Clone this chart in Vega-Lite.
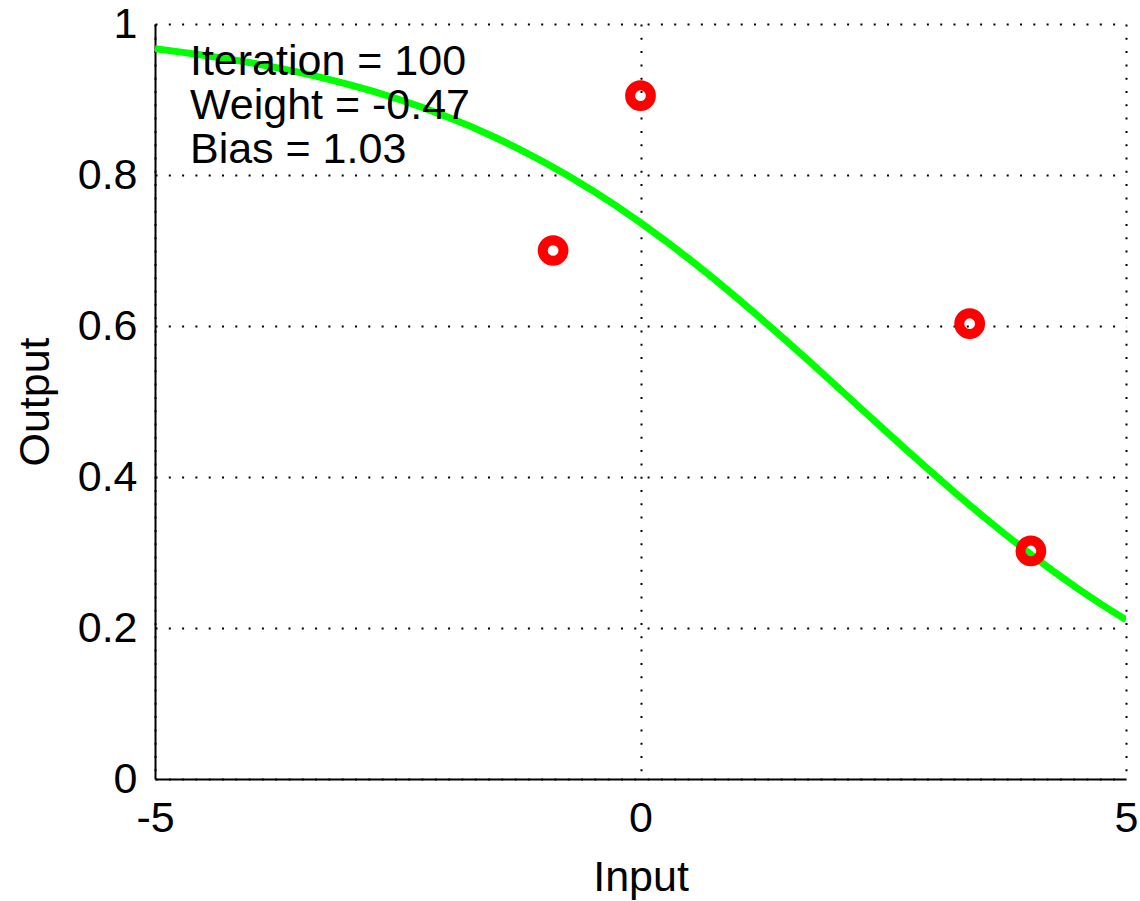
{
  "$schema": "https://vega.github.io/schema/vega-lite/v6.json",
  "width": 971,
  "height": 755,
  "autosize": {"type": "none"},
  "padding": {"left": 155, "top": 24, "right": 14, "bottom": 122},
  "background": "white",
  "config": {
    "view": {"stroke": null},
    "font": "Liberation Sans",
    "axis": {
      "grid": true,
      "gridColor": "black",
      "gridDash": [2, 11.3],
      "gridWidth": 2,
      "gridOpacity": 1,
      "domainColor": "black",
      "domainWidth": 2,
      "ticks": false,
      "labelFont": "Liberation Sans",
      "labelFontSize": 43,
      "labelColor": "black",
      "labelFlush": false,
      "titleFont": "Liberation Sans",
      "titleFontSize": 43,
      "titleFontWeight": "normal",
      "titleColor": "black"
    }
  },
  "datasets": {
    "curve": [
      {"x": -5, "y": 0.9671}, {"x": -4.75, "y": 0.9631}, {"x": -4.5, "y": 0.9587}, {"x": -4.25, "y": 0.9538},
      {"x": -4, "y": 0.9483}, {"x": -3.75, "y": 0.9423}, {"x": -3.5, "y": 0.9355}, {"x": -3.25, "y": 0.9281},
      {"x": -3, "y": 0.9198}, {"x": -2.75, "y": 0.9107}, {"x": -2.5, "y": 0.9007}, {"x": -2.25, "y": 0.8897},
      {"x": -2, "y": 0.8776}, {"x": -1.75, "y": 0.8644}, {"x": -1.5, "y": 0.85}, {"x": -1.25, "y": 0.8344},
      {"x": -1, "y": 0.8176}, {"x": -0.75, "y": 0.7994}, {"x": -0.5, "y": 0.7799}, {"x": -0.25, "y": 0.7591},
      {"x": 0, "y": 0.7369}, {"x": 0.25, "y": 0.7135}, {"x": 0.5, "y": 0.6889}, {"x": 0.75, "y": 0.6632},
      {"x": 1, "y": 0.6365}, {"x": 1.25, "y": 0.6088}, {"x": 1.5, "y": 0.5805}, {"x": 1.75, "y": 0.5517},
      {"x": 2, "y": 0.5225}, {"x": 2.25, "y": 0.4931}, {"x": 2.5, "y": 0.4638}, {"x": 2.75, "y": 0.4347},
      {"x": 3, "y": 0.4061}, {"x": 3.25, "y": 0.3781}, {"x": 3.5, "y": 0.3509}, {"x": 3.75, "y": 0.3247},
      {"x": 4, "y": 0.2994}, {"x": 4.25, "y": 0.2754}, {"x": 4.5, "y": 0.2526}, {"x": 4.75, "y": 0.231},
      {"x": 5, "y": 0.2108}
    ],
    "points": [
      {"x": -0.9, "y": 0.7},
      {"x": 0, "y": 0.905},
      {"x": 3.39, "y": 0.603},
      {"x": 4.02, "y": 0.302}
    ],
    "notes": [
      {"label": "Iteration = 100", "x": -4.64, "y": 0.9325},
      {"label": "Weight = -0.47", "x": -4.64, "y": 0.8742},
      {"label": "Bias = 1.03", "x": -4.64, "y": 0.8159}
    ]
  },
  "layer": [
    {
      "data": {"name": "curve"},
      "mark": {"type": "line", "color": "#00ff00", "strokeWidth": 7, "clip": true},
      "encoding": {
        "x": {
          "field": "x", "type": "quantitative",
          "scale": {"domain": [-5, 5], "nice": false, "zero": false},
          "axis": {"values": [-5, 0, 5], "labelExpr": "'' + datum.value", "title": "Input", "labelPadding": 18, "titlePadding": 16}
        },
        "y": {
          "field": "y", "type": "quantitative",
          "scale": {"domain": [0, 1], "nice": false},
          "axis": {"values": [0, 0.2, 0.4, 0.6, 0.8, 1], "labelExpr": "'' + datum.value", "title": "Output", "labelPadding": 18, "titlePadding": 20}
        }
      }
    },
    {
      "data": {"name": "points"},
      "mark": {"type": "point", "shape": "circle", "filled": false, "color": "#ff0000", "strokeWidth": 10, "size": 430, "opacity": 1},
      "encoding": {
        "x": {"field": "x", "type": "quantitative"},
        "y": {"field": "y", "type": "quantitative"}
      }
    },
    {
      "data": {"name": "notes"},
      "mark": {"type": "text", "align": "left", "baseline": "alphabetic", "fontSize": 43, "font": "Liberation Sans", "color": "black"},
      "encoding": {
        "x": {"field": "x", "type": "quantitative"},
        "y": {"field": "y", "type": "quantitative"},
        "text": {"field": "label"}
      }
    }
  ]
}
